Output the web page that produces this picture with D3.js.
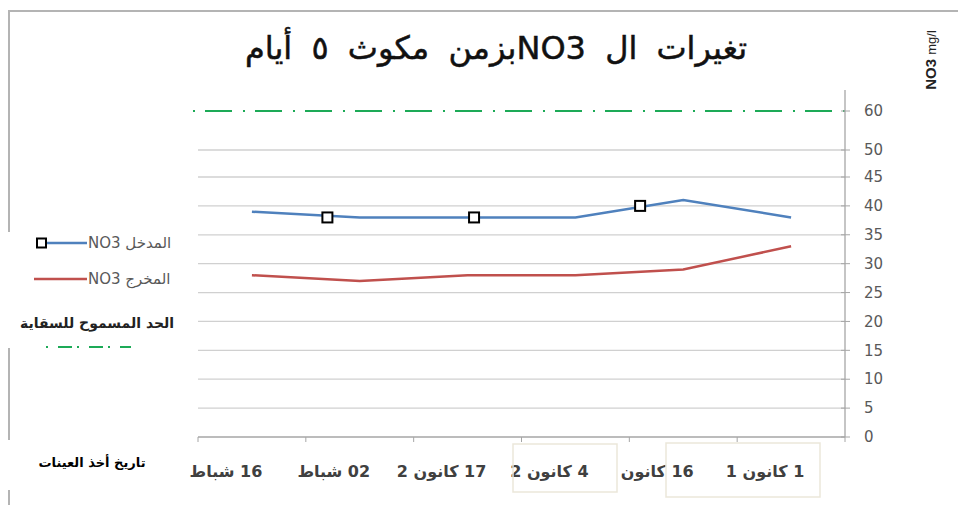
<!DOCTYPE html>
<html>
<head>
<meta charset="utf-8">
<script src="https://cdn.jsdelivr.net/npm/d3@7"></script>
<style>
  body { margin: 0; background: #fff; }
  svg { display: block; }
</style>
</head>
<body>
<div class="chart"></div>
<script>
// sampling dates, chronological (drawn right to left)
var dates = ["1 كانون 1", "16 كانون", "4 كانون 2", "17 كانون 2", "02 شباط", "16 شباط"];
var inletNO3 = [38, 41, 38, 38, 38, 39];
var outletNO3 = [33, 29, 28, 28, 27, 28];
// the square markers sit between dates in the picture (fractional date index)
var markerIdx = [1.4, 2.94, 4.3];
var markerVal = [40, 38, 38];
var limitNO3 = 60;
var yTicks = [0, 5, 10, 15, 20, 25, 30, 35, 40, 45, 50, 60];
var seriesNames = ["NO3 المدخل", "NO3 المخرج"];
var limitName = "الحد المسموح للسقاية";
var titleText = "تغيرات ال  NO3بزمن مكوث ٥ أيام";
var xTitle = "تاريخ أخذ العينات";

var W = 958, H = 505;
var cfg = {
  left: 198, right: 845, top: 90, bottom: 437,
  blue: "#4f81bd", red: "#c0504d", green: "#1daa57",
  grid: "#d0d0d0", text: "#595959"
};

var svg = d3.select(".chart").append("svg")
  .attr("width", W).attr("height", H);

// outer frame pieces (chart picture border)
var frame = svg.append("g").attr("stroke", "#b4b4b4").attr("stroke-width", 2);
frame.append("line").attr("x1", 8).attr("x2", W).attr("y1", 11).attr("y2", 11);
frame.append("line").attr("x1", 9).attr("x2", 9).attr("y1", 10).attr("y2", 232);
frame.append("line").attr("x1", 9).attr("x2", 9).attr("y1", 348).attr("y2", 440);
frame.append("line").attr("x1", 9).attr("x2", 9).attr("y1", 490).attr("y2", 505);

// scales
var x = d3.scaleBand().domain(dates).range([cfg.right, cfg.left]);
var bw = x.bandwidth();
var xi = d3.scaleLinear().domain([0, dates.length - 1])
  .range([x(dates[0]) + bw / 2, x(dates[dates.length - 1]) + bw / 2]);
// broken value axis: 0-45 evenly, then 50 and 60 squeezed at the top
var y = d3.scaleLinear().domain([0, 45, 50, 60]).range([cfg.bottom, 177, 150, 111]);

// grid
svg.append("g").selectAll("line")
  .data(yTicks.filter(function (d) { return d > 0 && d < limitNO3; }))
  .enter().append("line")
  .attr("x1", cfg.left).attr("x2", cfg.right)
  .attr("y1", function (d) { return y(d); })
  .attr("y2", function (d) { return y(d); })
  .attr("stroke", cfg.grid).attr("stroke-width", 1.3);

// limit line
svg.append("line")
  .attr("x1", cfg.left - 5).attr("x2", cfg.right)
  .attr("y1", y(limitNO3)).attr("y2", y(limitNO3))
  .attr("stroke", cfg.green).attr("stroke-width", 2)
  .attr("stroke-dasharray", "2,10,27,11");

// value axis on the right
var yAxis = svg.append("g");
yAxis.append("line")
  .attr("x1", cfg.right).attr("x2", cfg.right)
  .attr("y1", cfg.top).attr("y2", cfg.bottom)
  .attr("stroke", "#a6a6a6").attr("stroke-width", 1.3);
yAxis.selectAll(".tk").data(yTicks).enter().append("line")
  .attr("x1", cfg.right - 4).attr("x2", cfg.right + 5)
  .attr("y1", function (d) { return y(d); })
  .attr("y2", function (d) { return y(d); })
  .attr("stroke", "#a6a6a6");
yAxis.selectAll("text").data(yTicks).enter().append("text")
  .attr("x", 864)
  .attr("y", function (d) { return y(d); })
  .attr("dy", "0.35em")
  .attr("fill", cfg.text)
  .style("font", "15px 'DejaVu Sans', sans-serif")
  .text(function (d) { return d; });

// category axis
var xAxis = svg.append("g");
xAxis.append("line")
  .attr("x1", cfg.left).attr("x2", cfg.right)
  .attr("y1", cfg.bottom).attr("y2", cfg.bottom)
  .attr("stroke", "#a6a6a6").attr("stroke-width", 1.3);
xAxis.selectAll(".tk").data(dates).enter().append("line")
  .attr("x1", function (d) { return x(d) + bw; })
  .attr("x2", function (d) { return x(d) + bw; })
  .attr("y1", cfg.bottom).attr("y2", cfg.bottom + 5)
  .attr("stroke", "#a6a6a6");
xAxis.append("line")
  .attr("x1", cfg.left).attr("x2", cfg.left)
  .attr("y1", cfg.bottom).attr("y2", cfg.bottom + 5)
  .attr("stroke", "#a6a6a6");

// light boxes left round two of the date labels
var boxes = svg.append("g").attr("fill", "none").attr("stroke", "#ebe7da").attr("stroke-width", 1.5);
boxes.append("rect").attr("x", 513).attr("y", 444).attr("width", 104).attr("height", 48);
boxes.append("rect").attr("x", 666).attr("y", 443).attr("width", 154).attr("height", 54);

xAxis.selectAll("text").data(dates).enter().append("text")
  .attr("x", function (d) { return x(d) + bw / 2 - 26; })
  .attr("y", 477)
  .attr("direction", "rtl")
  .attr("text-anchor", "middle")
  .attr("fill", "#404040")
  .style("font", "bold 16px 'DejaVu Sans', sans-serif")
  .text(function (d) { return d; });

svg.append("text")
  .attr("x", 92).attr("y", 467)
  .attr("text-anchor", "middle")
  .attr("fill", "#000")
  .style("font", "bold 13px 'DejaVu Sans', sans-serif")
  .text(xTitle);

// series lines
var line = d3.line()
  .x(function (d, i) { return x(dates[i]) + bw / 2; })
  .y(function (d) { return y(d); });

svg.append("path").datum(outletNO3)
  .attr("d", line).attr("fill", "none")
  .attr("stroke", cfg.red).attr("stroke-width", 2.5);
svg.append("path").datum(inletNO3)
  .attr("d", line).attr("fill", "none")
  .attr("stroke", cfg.blue).attr("stroke-width", 2.5);

svg.append("g").selectAll("rect")
  .data(markerIdx).enter().append("rect")
  .attr("x", function (d) { return xi(d) - 5; })
  .attr("y", function (d, i) { return y(markerVal[i]) - 5; })
  .attr("width", 10).attr("height", 10)
  .attr("fill", "#fff").attr("stroke", "#000").attr("stroke-width", 2);

// title
svg.append("text")
  .attr("x", 496).attr("y", 59)
  .attr("direction", "rtl")
  .attr("text-anchor", "middle")
  .attr("fill", "#111")
  .attr("stroke", "#111").attr("stroke-width", 0.5)
  .style("font", "32px 'DejaVu Sans', sans-serif")
  .style("word-spacing", "9px")
  .text(titleText);

// unit label, rotated
svg.append("text")
  .attr("transform", "translate(936,60) rotate(-90)")
  .attr("text-anchor", "middle")
  .attr("fill", "#222")
  .style("font", "bold 15px 'Liberation Sans', sans-serif")
  .call(function (t) {
    t.append("tspan").text("NO3 ");
    t.append("tspan").style("font-size", "13px").style("font-weight", "normal").text("mg/l");
  });

// legend
var legend = svg.append("g");
var legY = [243, 279];
var legColors = [cfg.blue, cfg.red];
legend.selectAll(".ll").data(seriesNames).enter().append("line")
  .attr("x1", function (d, i) { return i === 0 ? 42 : 34; })
  .attr("x2", 87)
  .attr("y1", function (d, i) { return legY[i]; })
  .attr("y2", function (d, i) { return legY[i]; })
  .attr("stroke", function (d, i) { return legColors[i]; })
  .attr("stroke-width", 2.5);
legend.append("rect")
  .attr("x", 37).attr("y", legY[0] - 4.5)
  .attr("width", 9).attr("height", 9)
  .attr("fill", "#fff").attr("stroke", "#000").attr("stroke-width", 2);
legend.selectAll("text").data(seriesNames).enter().append("text")
  .attr("x", 88)
  .attr("y", function (d, i) { return legY[i]; })
  .attr("dy", "0.35em")
  .attr("fill", cfg.text)
  .style("font", "15px 'DejaVu Sans', sans-serif")
  .text(function (d) { return d; });

legend.append("text")
  .attr("x", 97).attr("y", 328)
  .attr("text-anchor", "middle")
  .attr("fill", "#222")
  .style("font", "bold 14px 'DejaVu Sans', sans-serif")
  .text(limitName);
legend.append("line")
  .attr("x1", 46).attr("x2", 131)
  .attr("y1", 347).attr("y2", 347)
  .attr("stroke", cfg.green).attr("stroke-width", 2)
  .attr("stroke-dasharray", "2,10,14,5");
</script>
</body>
</html>
